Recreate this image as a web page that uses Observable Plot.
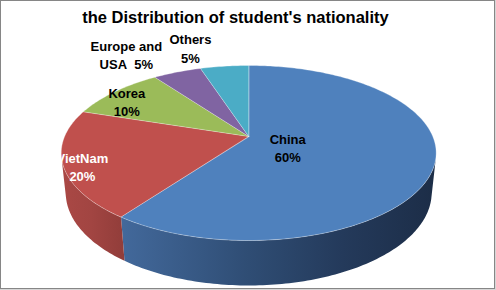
<!DOCTYPE html>
<html><head><meta charset="utf-8">
<script src="https://cdn.jsdelivr.net/npm/d3@7"></script>
<script src="https://cdn.jsdelivr.net/npm/@observablehq/plot@0.6"></script>
<style>
html,body{margin:0;padding:0;background:#fff;}
#wrap{position:relative;width:496px;height:290px;background:#d6d6d6;overflow:hidden;font-family:"Liberation Sans",Arial,sans-serif;}
#frame{position:absolute;left:0;top:0;width:495px;height:289px;box-sizing:border-box;border:1px solid #868686;background:#fff;}
#title{position:absolute;left:0;top:7px;width:471px;text-align:center;font-size:16.5px;font-weight:bold;line-height:20px;color:#000;white-space:nowrap;}
#chart{position:absolute;left:0;top:0;}
</style></head><body>
<div id="wrap"><div id="frame"></div><div id="title">the Distribution of student's nationality</div><div id="chart"></div></div>
<script>
// ---- data ----
const categories = ["China", "VietNam", "Korea", "Europe and USA", "Others"];
const values = [60, 20, 10, 5, 5];
const labelTexts = ["China\n60%", "VietNam\n20%", "Korea\n10%", "Europe and\nUSA\u00a0 5%", "Others\n5%"];
const colors = ["#4f81bd", "#c0504d", "#9bbb59", "#8064a2", "#4bacc6"];
const labelColors = ["black", "white", "black", "black", "black"];
const wallStops = [
  [[0, "#5580b6"], [0.17, "#42689a"], [0.5, "#2f4d74"], [0.75, "#243a5b"], [1, "#1c2d47"]],
  [[0, "#aa4845"], [0.08, "#a24542"], [0.18, "#8f3c39"], [1, "#7a3230"]]
];

// ---- layout / 3D camera ----
const W = 496, H = 290, CX = 248.2, CY = 136, UNIT = 184.1;
const PHI = Math.asin(0.4585), DIST = 4.712, THICK = 0.2446;
const FONT = "'Liberation Sans', Arial, sans-serif";

function proj(theta, r, yu) {
  const X = r * Math.sin(theta), Z = r * Math.cos(theta);
  const depth = DIST - yu * Math.sin(PHI) + Z * Math.cos(PHI);
  const sy = yu * Math.cos(PHI) + Z * Math.sin(PHI);
  return {x: DIST * X / depth, y: DIST * sy / depth};
}

const total = d3.sum(values);
let acc = 0;
const slices = values.map((v, i) => {
  const a0 = acc / total * 2 * Math.PI; acc += v;
  const a1 = acc / total * 2 * Math.PI;
  return {i, name: categories[i], value: v, a0, a1, mid: (a0 + a1) / 2, share: v / total};
});

function arc(a0, a1, yu) {
  const n = Math.max(2, Math.ceil((a1 - a0) / (Math.PI / 180)));
  return d3.range(n + 1).map(k => proj(a0 + (a1 - a0) * k / n, 1, yu));
}

const marks = [];
marks.push((index, scales) => {
  const defs = d3.create("svg:defs");
  wallStops.forEach((stops, i) => {
    const g = defs.append("linearGradient").attr("id", "wall" + i)
      .attr("gradientUnits", "userSpaceOnUse")
      .attr("x1", scales.x(-1.02)).attr("x2", scales.x(1.02)).attr("y1", 0).attr("y2", 0);
    stops.forEach(([o, c]) => g.append("stop").attr("offset", o).attr("stop-color", c));
  });
  return defs.node();
});
// side walls: visible where the outward normal faces the camera
const thetaS = Math.acos(-1 / (DIST * Math.cos(PHI)));
slices.forEach(s => {
  const b0 = Math.max(s.a0, thetaS), b1 = Math.min(s.a1, 2 * Math.PI - thetaS);
  if (b1 <= b0) return;
  const pts = [...arc(b0, b1, 0), ...arc(b0, b1, -THICK).reverse()];
  marks.push(Plot.line(pts, {x: "x", y: "y", curve: "linear-closed", fill: `url(#wall${s.i})`, stroke: "none"}));
});
// top faces
slices.forEach(s => {
  const pts = [proj(0, 0, 0), ...arc(s.a0, s.a1, 0)];
  marks.push(Plot.line(pts, {x: "x", y: "y", curve: "linear-closed", fill: colors[s.i], stroke: "#ffffff", strokeOpacity: 0.5, strokeWidth: 0.6}));
});

// labels
const ctx = document.createElement("canvas").getContext("2d");
ctx.font = `bold 13px ${FONT}`;
const inside = [], outside = [];
slices.forEach(s => {
  const text = labelTexts[s.i];
  if (s.share < 0.08) {
    const p = proj(s.mid, 1.05, 0);
    const w = d3.max(text.split("\n"), l => ctx.measureText(l).width);
    outside.push({x: p.x - (w / 2) / UNIT, y: p.y, text, color: labelColors[s.i]});
  } else {
    const p = proj(s.mid, s.share > 0.5 ? 0.22 : 0.9, 0);
    inside.push({x: p.x, y: p.y, text, color: labelColors[s.i]});
  }
});
["black", "white"].forEach(c => {
  marks.push(Plot.text(inside.filter(d => d.color === c), {x: "x", y: "y", text: "text", fill: c, fontSize: 13, fontWeight: "bold", lineHeight: 1.38, dy: 5}));
  marks.push(Plot.text(outside.filter(d => d.color === c), {x: "x", y: "y", text: "text", fill: c, fontSize: 13, fontWeight: "bold", lineHeight: 1.45, lineAnchor: "bottom", dx: -12}));
});

const chart = Plot.plot({
  width: W, height: H,
  marginLeft: 0, marginRight: 0, marginTop: 0, marginBottom: 0,
  x: {domain: [-CX / UNIT, (W - CX) / UNIT], axis: null},
  y: {domain: [-(H - CY) / UNIT, CY / UNIT], axis: null},
  style: {background: "transparent", fontFamily: FONT, overflow: "visible"},
  marks
});
document.getElementById("chart").appendChild(chart);
</script>
</body></html>
